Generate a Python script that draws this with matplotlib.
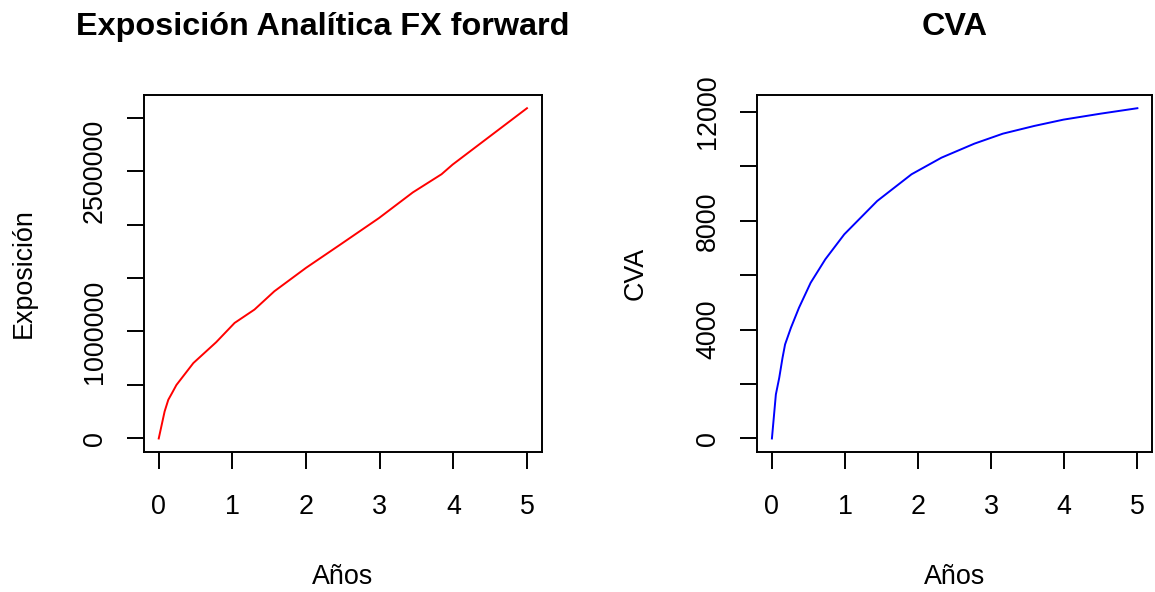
import numpy as np
import matplotlib
matplotlib.use("Agg")
import matplotlib.pyplot as plt

plt.rcParams['font.family'] = ['Liberation Sans', 'DejaVu Sans']

# exposicion analitica FX forward
t_exp = [0, 0.08, 0.13, 0.18, 0.24, 0.47, 0.78, 1.03, 1.30, 1.57, 2.0, 2.46,
         2.99, 3.45, 3.84, 3.99, 4.45, 5.0]
exposicion = [0, 253000, 362000, 424000, 500000, 705000, 900000, 1080000,
              1205000, 1376000, 1595000, 1810000, 2060000, 2300000, 2470000,
              2560000, 2800000, 3087000]

# CVA acumulado
t_cva = [0, 0.054, 0.1, 0.145, 0.18, 0.26, 0.37, 0.53, 0.73, 0.99, 1.44,
         1.91, 2.32, 2.77, 3.16, 3.59, 3.99, 4.50, 5.0]
cva = [0, 1618, 2228, 2964, 3457, 4068, 4803, 5723, 6583, 7503, 8727, 9709,
       10320, 10835, 11202, 11486, 11718, 11938, 12137]

exp_ticks = [0, 500000, 1000000, 1500000, 2000000, 2500000, 3000000]
exp_labels = ['0', '', '1000000', '', '', '2500000', '']
cva_ticks = [0, 2000, 4000, 6000, 8000, 10000, 12000]
cva_labels = ['0', '', '4000', '', '8000', '', '12000']
x_ticks = [0, 1, 2, 3, 4, 5]

W, H = 1155, 592
fig = plt.figure(figsize=(W / 100, H / 100), dpi=100)

fs = 19.4
ax1 = fig.add_axes([144 / W, 1 - 451.7 / H, 397.7 / W, 356.7 / H])
ax2 = fig.add_axes([757.3 / W, 1 - 451.7 / H, 394.7 / W, 356.7 / H])

ax1.plot(t_exp, exposicion, color='red', lw=1.4)
ax2.plot(t_cva, cva, color='blue', lw=1.4)

panels = [
    (ax1, "Exposición Analítica FX forward", 0.449, "Exposición", -0.302,
     exp_ticks, exp_labels),
    (ax2, "CVA", 0.5, "CVA", -0.309, cva_ticks, cva_labels),
]
for ax, title, tx, ylab, ylx, yt, ytl in panels:
    ax.set_xlim(-0.2, 5.2)
    ax.margins(y=0.04)
    ax.set_xticks(x_ticks)
    ax.set_xticklabels([str(v) for v in x_ticks])
    ax.set_yticks(yt)
    ax.set_yticklabels(ytl, rotation=90, va='center')
    for s in ax.spines.values():
        s.set_linewidth(1.4)
    ax.tick_params(axis='both', length=12, width=1.4, labelsize=fs,
                   direction='out')
    ax.tick_params(axis='x', pad=18.5)
    ax.tick_params(axis='y', pad=14)
    ax.set_title(title, fontsize=23.3, fontweight='bold', x=tx, y=1.168,
                 va='baseline', pad=0)
    ax.set_xlabel("Años", fontsize=fs)
    ax.xaxis.set_label_coords(0.5, -0.352)
    ax.xaxis.label.set_va('center')
    ax.set_ylabel(ylab, fontsize=fs)
    ax.yaxis.set_label_coords(ylx, 0.5)
    ax.yaxis.label.set_va('center')

fig.savefig("out.png", dpi=100)
